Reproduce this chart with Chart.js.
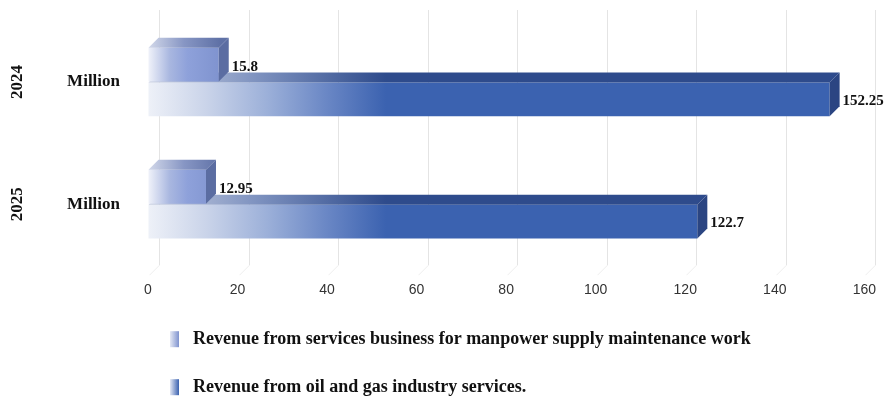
<!DOCTYPE html>
<html>
<head>
<meta charset="utf-8">
<script src="https://cdn.jsdelivr.net/npm/chart.js@4.4.1/dist/chart.umd.min.js"></script>
<style>
html, body { margin: 0; padding: 0; background: #fff; }
#chart { display: block; }
</style>
</head>
<body>
<canvas id="chart" width="893" height="401"></canvas>
<script>
// data
var years = ['2024', '2025'];
var unitLabels = ['Million', 'Million'];
var seriesNames = [
  'Revenue from services business for manpower supply maintenance work',
  'Revenue from oil and gas industry services.'
];
var manpowerRevenue = [15.8, 12.95];
var oilGasRevenue = [152.25, 122.7];
var xMin = 0, xMax = 160, xStep = 20;

var DEPTH = 10;
var serif = "'Liberation Serif', 'Times New Roman', serif";

// colours per series: front gradient, top gradient, side, gradient end pixel (from left)
var looks = [
  {
    front: [[0, '#f1f3fa'], [0.3, '#a9b7e0'], [0.55, '#8ea1da'], [1, '#7f93cf']],
    top: [[0, '#d3d9ea'], [0.5, '#8796c4'], [1, '#5f71a6']],
    side: '#5b6da2',
    span: 72
  },
  {
    front: [[0, '#eef1f8'], [0.25, '#c9d3e9'], [0.5, '#9cb0d9'], [0.75, '#6a87c5'], [1, '#3b62b0']],
    top: [[0, '#c9d0e2'], [0.45, '#7f93c0'], [1, '#2e4b8c']],
    side: '#2b4582',
    span: 238
  }
];

function makeGrad(ctx, x0, x1, stops) {
  var g = ctx.createLinearGradient(x0, 0, x1, 0);
  stops.forEach(function(s) { g.addColorStop(s[0], s[1]); });
  return g;
}

function frontColor(i) {
  return function(c) {
    var area = c.chart.chartArea;
    if (!area) return looks[i].front[looks[i].front.length - 1][1];
    return makeGrad(c.chart.ctx, area.left, area.left + looks[i].span, looks[i].front);
  };
}

// back wall gridlines (shifted by the 3d depth)
var backGrid = {
  id: 'backGrid',
  beforeDatasetsDraw: function(chart) {
    var ctx = chart.ctx, area = chart.chartArea, xs = chart.scales.x;
    ctx.save();
    ctx.lineWidth = 1;
    for (var v = xMin; v <= xMax; v += xStep) {
      var x = Math.round(xs.getPixelForValue(v) + DEPTH + 1) + 0.5;
      ctx.strokeStyle = '#e4e4e4';
      ctx.beginPath();
      ctx.moveTo(x, area.top - DEPTH - 1);
      ctx.lineTo(x, area.bottom);
      ctx.stroke();
      ctx.strokeStyle = '#eeeeee';
      ctx.beginPath();
      ctx.moveTo(x, area.bottom);
      ctx.lineTo(x - DEPTH, area.bottom + DEPTH);
      ctx.stroke();
    }
    ctx.restore();
  }
};

// top and side faces of every bar, drawn right after its dataset
var bar3d = {
  id: 'bar3d',
  afterDatasetDraw: function(chart, args) {
    var ctx = chart.ctx, area = chart.chartArea, look = looks[args.index];
    var values = chart.data.datasets[args.index].data;
    ctx.save();
    args.meta.data.forEach(function(bar, j) {
      var p = bar.getProps(['x', 'y', 'base', 'height'], true);
      var x0 = p.base, x1 = p.x, yt = p.y - p.height / 2, yb = p.y + p.height / 2;
      // top face
      ctx.fillStyle = makeGrad(ctx, area.left, area.left + look.span, look.top);
      ctx.beginPath();
      ctx.moveTo(x0, yt);
      ctx.lineTo(x0 + DEPTH, yt - DEPTH);
      ctx.lineTo(x1 + DEPTH, yt - DEPTH);
      ctx.lineTo(x1, yt);
      ctx.closePath();
      ctx.fill();
      // side face
      ctx.fillStyle = look.side;
      ctx.beginPath();
      ctx.moveTo(x1, yt);
      ctx.lineTo(x1 + DEPTH, yt - DEPTH);
      ctx.lineTo(x1 + DEPTH, yb - DEPTH);
      ctx.lineTo(x1, yb);
      ctx.closePath();
      ctx.fill();
      // value label
      ctx.fillStyle = '#111';
      ctx.font = 'bold 15px ' + serif;
      ctx.textAlign = 'left';
      ctx.textBaseline = 'middle';
      ctx.fillText(String(values[j]), x1 + DEPTH + 3, p.y + 2);
    });
    ctx.restore();
  }
};

// rotated year labels on the far left
var yearLabels = {
  id: 'yearLabels',
  afterDraw: function(chart) {
    var ctx = chart.ctx, ys = chart.scales.y;
    ctx.save();
    ctx.fillStyle = '#111';
    ctx.font = 'bold 17px ' + serif;
    ctx.textAlign = 'center';
    ctx.textBaseline = 'middle';
    years.forEach(function(yr, i) {
      ctx.save();
      ctx.translate(18, ys.getPixelForValue(i));
      ctx.rotate(-Math.PI / 2);
      ctx.fillText(yr, 0, 0);
      ctx.restore();
    });
    ctx.restore();
  }
};

// vertical legend under the axis
var sideLegend = {
  id: 'sideLegend',
  afterDraw: function(chart) {
    var ctx = chart.ctx, area = chart.chartArea;
    ctx.save();
    chart.data.datasets.forEach(function(ds, i) {
      var top = area.bottom + 66 + i * 48;
      ctx.fillStyle = makeGrad(ctx, 170, 179, [[0, '#e4e8f4'], [1, looks[i].front[looks[i].front.length - 1][1]]]);
      ctx.fillRect(170, top, 9, 16);
      ctx.fillStyle = '#111';
      ctx.font = 'bold 18px ' + serif;
      ctx.textAlign = 'left';
      ctx.textBaseline = 'middle';
      ctx.fillText(ds.label, 193, top + 8);
    });
    ctx.restore();
  }
};

new Chart(document.getElementById('chart'), {
  type: 'bar',
  data: {
    labels: unitLabels,
    datasets: [
      { label: seriesNames[0], data: manpowerRevenue, backgroundColor: frontColor(0), borderWidth: 0 },
      { label: seriesNames[1], data: oilGasRevenue, backgroundColor: frontColor(1), borderWidth: 0 }
    ]
  },
  options: {
    indexAxis: 'y',
    responsive: false,
    animation: false,
    devicePixelRatio: 1,
    categoryPercentage: 0.57,
    barPercentage: 0.97,
    layout: { padding: { top: 21, right: 19, bottom: 85, left: 0 } },
    plugins: { legend: { display: false }, tooltip: { enabled: false } },
    scales: {
      x: {
        min: xMin, max: xMax,
        grid: { color: 'transparent', drawTicks: false },
        border: { display: false },
        ticks: { stepSize: xStep, padding: 17, color: '#333', font: { family: "'Liberation Sans', Arial, sans-serif", size: 14 } }
      },
      y: {
        grid: { display: false, drawTicks: false },
        border: { display: false },
        afterFit: function(s) { s.width = 148; s.paddingTop = 0; s.paddingBottom = 0; },
        ticks: { padding: 28, color: '#111', font: { family: serif, size: 17, weight: 'bold' } }
      }
    }
  },
  plugins: [backGrid, bar3d, yearLabels, sideLegend]
});
</script>
</body>
</html>
